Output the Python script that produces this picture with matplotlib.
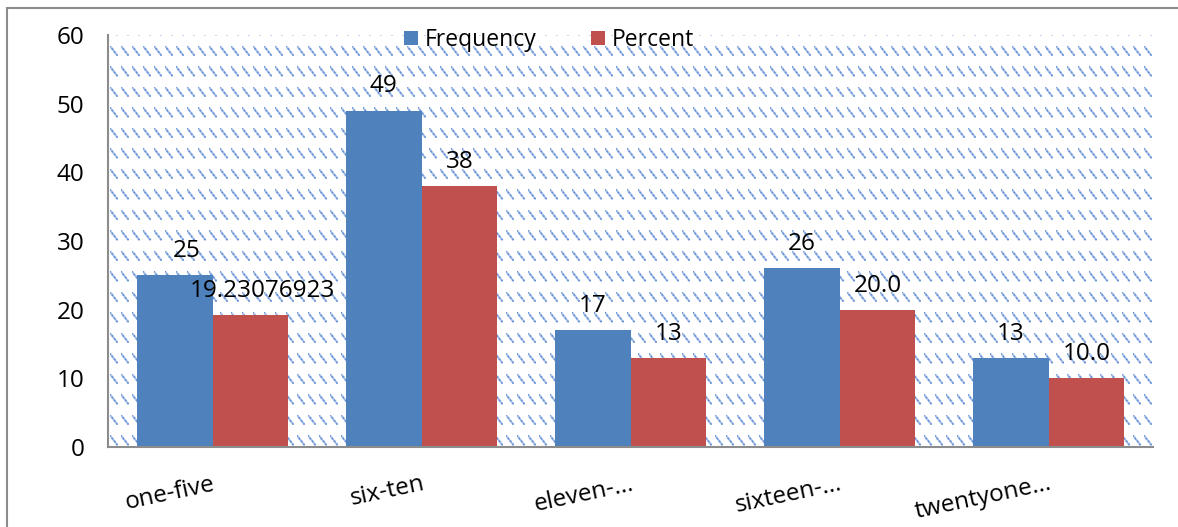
import numpy as np
import matplotlib
matplotlib.use("Agg")
import matplotlib.pyplot as plt
from matplotlib.patches import Rectangle

plt.rcParams['font.family'] = ['Open Sans', 'DejaVu Sans']

categories = ['one-five', 'six-ten', 'eleven-...', 'sixteen-...', 'twentyone...']
frequency = [25, 49, 17, 26, 13]
percent = [19.23076923, 38, 13, 20.0, 10.0]
percent_text = ['19.23076923', '38', '13', '20.0', '10.0']
yticks = [0, 10, 20, 30, 40, 50, 60]

blue = '#4F81BD'
red = '#C0504D'
fs = 17.5

fig = plt.figure(figsize=(11.78, 5.27), dpi=100)
ax = fig.add_axes([108/1178, 80/527, 1045/1178, 412/527])

# dashed-diagonal background pattern, built per pixel of the plot area
H, W = 412, 1045
yy, xx = np.mgrid[0:H, 0:W] + 0.5
ty = (yy - 11) % 20.5
tx = (xx - 2) % 11
t = np.clip((tx*7 + ty*9)/130.0, 0, 1)
dist = np.hypot(tx - 7*t, ty - 9*t)
alpha = np.clip(1.5 - dist, 0, 1)
alpha = alpha*(0.5 + 0.4*np.cos(t*np.pi*3)**2)
tex = np.zeros((H, W, 4))
tex[..., 0] = 0.33
tex[..., 1] = 0.52
tex[..., 2] = 0.82
tex[..., 3] = alpha
ax.imshow(tex, extent=(-0.5, 4.5, 0, 60), aspect='auto', interpolation='bilinear', zorder=0)

x = np.arange(len(categories))
w = 0.3636
b1 = ax.bar(x - w/2, frequency, w, color=blue, label='Frequency', zorder=2)
b2 = ax.bar(x + w/2, percent, w, color=red, label='Percent', zorder=2)

# first group labels sit a little to the right
shift = [12, 0, 0, 0, 0]
for i in range(len(categories)):
    ax.annotate(str(frequency[i]), (x[i] - w/2, frequency[i]), xytext=(shift[i]*0.72, 13),
                textcoords='offset points', ha='center', va='baseline', fontsize=fs)
    ax.annotate(percent_text[i], (x[i] + w/2, percent[i]), xytext=(shift[i]*0.72, 13),
                textcoords='offset points', ha='center', va='baseline', fontsize=fs)

ax.set_xlim(-0.5, 4.5)
ax.set_ylim(0, 60)
ax.set_yticks(yticks)
ax.set_yticklabels([str(v) for v in yticks], fontsize=fs)
ax.set_xticks(x)
ax.set_xticklabels(categories, fontsize=fs, rotation=12, ha='right', rotation_mode='anchor')
ax.tick_params(axis='y', length=0, pad=17)
ax.tick_params(axis='x', length=0, pad=18)
for s in ['top', 'right']:
    ax.spines[s].set_visible(False)
for s in ['left', 'bottom']:
    ax.spines[s].set_color('#8c8c8c')
    ax.spines[s].set_linewidth(1.5)
    ax.spines[s].set_zorder(3)

fig.legend(handles=[b1, b2], loc='center', bbox_to_anchor=(549/1178, 487/527), ncol=2,
           frameon=False, fontsize=16.5, handlelength=0.6, handleheight=0.6,
           handletextpad=0.3, columnspacing=2.4, borderpad=0)

# chart area outline
fig.patches.append(Rectangle((7/1178, -0.1), 2, 1.1 - 8/527, transform=fig.transFigure,
                             fill=False, edgecolor='#8c8c8c', linewidth=1.5))

fig.savefig('out.png', dpi=100)
